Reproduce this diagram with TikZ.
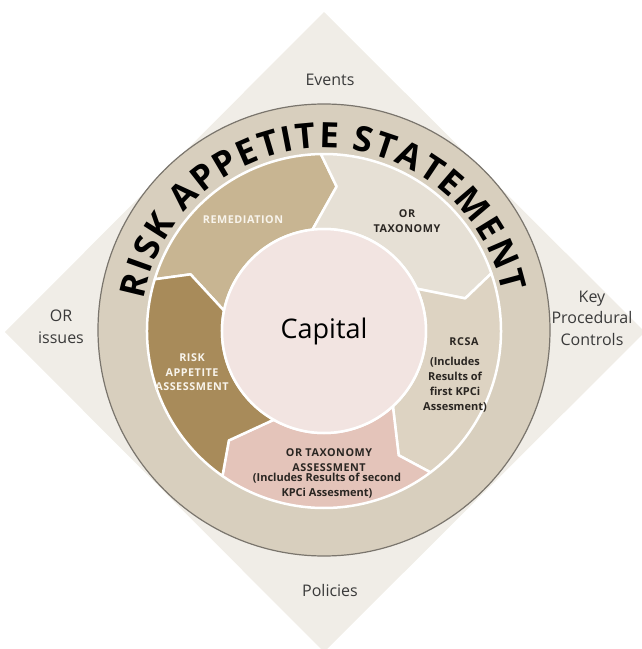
\documentclass[tikz,border=0pt]{standalone}
\usepackage{fontspec}
\setmainfont{Open Sans}
\usetikzlibrary{decorations.text}
\definecolor{diamondbg}{HTML}{F0EDE7}
\definecolor{ringbg}{HTML}{D8CFBE}
\definecolor{rimgray}{HTML}{7A756D}
\definecolor{remfill}{HTML}{C8B592}
\definecolor{ortfill}{HTML}{E6E0D5}
\definecolor{rcsafill}{HTML}{DDD3C2}
\definecolor{ortafill}{HTML}{E4C4BA}
\definecolor{raafill}{HTML}{A88B5A}
\definecolor{capfill}{HTML}{F2E4E1}
\definecolor{labeldark}{HTML}{2A2622}
\definecolor{labelgray}{HTML}{3A3A3A}
\definecolor{labellight}{HTML}{F8F4EC}
\newcommand\titlefont{\fontsize{35}{35}\selectfont\bfseries}
\begin{document}
\begin{tikzpicture}[x=1pt,y=1pt,
  outer/.style={font=\fontsize{16}{21.5}\selectfont, text=labelgray, align=center},
  caps/.style={font=\fontsize{10.8}{14.5}\selectfont\bfseries\addfontfeature{LetterSpace=5}, text=labeldark, align=center},
  note/.style={font=\fontsize{11}{15}\selectfont\bfseries, text=labeldark, align=center},
  seg/.style={draw=white, line width=2.5pt, line join=round}]
        \useasboundingbox (-324,-318) rectangle (317,331);
        \fill[diamondbg] (0,319) -- (321,-1) -- (0,-321) -- (-319,-1) -- cycle;
        \draw[rimgray, line width=1.2pt, fill=ringbg] (0,1) circle (226);

        \path[decorate, decoration={text along path, text color=black,
            text={|\titlefont|RISK APPETITE STATEMENT}, text align={fit to path}}]
        (170:183) arc[start angle=170, end angle=12, radius=183];

        \foreach \b/\col in {163/remfill, 91/ortfill, 19/rcsafill, -53/ortafill, -125/raafill}
        \filldraw[seg, fill=\col] (\b:177) arc[start angle=\b, end angle=\b-72, radius=177]
            -- (\b-78:145) -- (\b-66.5:102) arc[start angle=\b-66.5, end angle=\b+5.5, radius=102]
            -- (\b-6:145) -- cycle;
        \draw[seg, fill=capfill] (0,0) circle (102);

        \node[font=\fontsize{27}{30}\selectfont, text=black] (capital) at (0,0) {Capital};
        \node[outer] (events) at (6,251) {Events};
        \node[outer] (orissues) at (-263,4) {OR\\issues};
        \node[outer] (keyctrl) at (268,13) {Key\\Procedural\\Controls};
        \node[outer] (policies) at (6,-259) {Policies};

        \node[caps, text=labellight] (remlbl) at (-81,111) {REMEDIATION};
        \node[caps] (ortlbl) at (83,110) {OR\\TAXONOMY};
        \node[caps] (rcsalbl) at (140,-11) {RCSA};
        \node[note] (rcsanote) at (131,-53.5) {(Includes\\Results of\\first KPCi\\Assesment)};
        \node[caps] (ortalbl) at (5,-129) {OR TAXONOMY\\ASSESSMENT};
        \node[note] (ortanote) at (3,-154.5) {(Includes Results of second\\KPCi Assesment)};
        \node[caps, text=labellight] (raalbl) at (-132,-41.5) {RISK\\APPETITE\\ASSESSMENT};
\end{tikzpicture}
\end{document}
